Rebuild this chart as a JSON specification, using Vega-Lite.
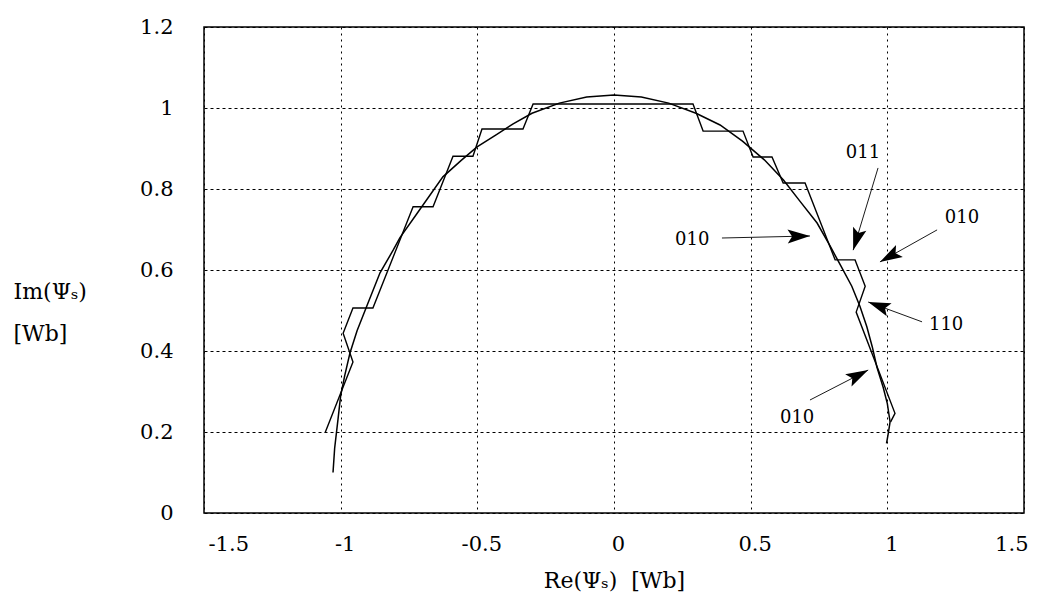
{
  "$schema": "https://vega.github.io/schema/vega-lite/v6.json",
  "width": 820,
  "height": 486,
  "autosize": "none",
  "padding": {"left": 204, "top": 27, "right": 36, "bottom": 87},
  "background": "white",
  "config": {
    "view": {"stroke": "black", "strokeWidth": 1.5},
    "axis": {
      "domain": false,
      "ticks": false,
      "labelFont": "DejaVu Serif",
      "labelFontSize": 21,
      "labelColor": "black",
      "titleFont": "DejaVu Serif",
      "titleFontSize": 22,
      "titleFontWeight": "normal",
      "titleColor": "black",
      "gridColor": "black",
      "gridOpacity": 1,
      "gridWidth": 1
    }
  },
  "datasets": {
    "circle": [
      {"i": 1, "x": -1.028, "y": 0.10},
      {"i": 2, "x": -1.022, "y": 0.16},
      {"i": 3, "x": -1.010, "y": 0.23},
      {"i": 4, "x": -1.000, "y": 0.29},
      {"i": 5, "x": -0.985, "y": 0.34},
      {"i": 6, "x": -0.966, "y": 0.395},
      {"i": 7, "x": -0.940, "y": 0.45},
      {"i": 8, "x": -0.905, "y": 0.51},
      {"i": 9, "x": -0.856, "y": 0.593},
      {"i": 10, "x": -0.808, "y": 0.649},
      {"i": 11, "x": -0.783, "y": 0.68},
      {"i": 12, "x": -0.720, "y": 0.74},
      {"i": 13, "x": -0.626, "y": 0.83},
      {"i": 14, "x": -0.560, "y": 0.87},
      {"i": 15, "x": -0.501, "y": 0.904},
      {"i": 16, "x": -0.430, "y": 0.934},
      {"i": 17, "x": -0.369, "y": 0.961},
      {"i": 18, "x": -0.300, "y": 0.987},
      {"i": 19, "x": -0.200, "y": 1.012},
      {"i": 20, "x": -0.100, "y": 1.027},
      {"i": 21, "x": 0.000, "y": 1.032},
      {"i": 22, "x": 0.100, "y": 1.027},
      {"i": 23, "x": 0.200, "y": 1.012},
      {"i": 24, "x": 0.300, "y": 0.987},
      {"i": 25, "x": 0.388, "y": 0.958},
      {"i": 26, "x": 0.470, "y": 0.918},
      {"i": 27, "x": 0.550, "y": 0.872},
      {"i": 28, "x": 0.620, "y": 0.822},
      {"i": 29, "x": 0.680, "y": 0.77},
      {"i": 30, "x": 0.743, "y": 0.716},
      {"i": 31, "x": 0.790, "y": 0.66},
      {"i": 32, "x": 0.830, "y": 0.61},
      {"i": 33, "x": 0.870, "y": 0.56},
      {"i": 34, "x": 0.900, "y": 0.51},
      {"i": 35, "x": 0.925, "y": 0.46},
      {"i": 36, "x": 0.945, "y": 0.41},
      {"i": 37, "x": 0.962, "y": 0.36},
      {"i": 38, "x": 0.985, "y": 0.31},
      {"i": 39, "x": 1.000, "y": 0.27},
      {"i": 40, "x": 1.010, "y": 0.225},
      {"i": 41, "x": 1.003, "y": 0.195},
      {"i": 42, "x": 0.997, "y": 0.172}
    ],
    "stepped": [
      {"i": 1, "x": -1.057, "y": 0.198},
      {"i": 2, "x": -0.955, "y": 0.373},
      {"i": 3, "x": -0.991, "y": 0.444},
      {"i": 4, "x": -0.955, "y": 0.506},
      {"i": 5, "x": -0.882, "y": 0.506},
      {"i": 6, "x": -0.735, "y": 0.756},
      {"i": 7, "x": -0.662, "y": 0.756},
      {"i": 8, "x": -0.589, "y": 0.881},
      {"i": 9, "x": -0.516, "y": 0.881},
      {"i": 10, "x": -0.483, "y": 0.948},
      {"i": 11, "x": -0.333, "y": 0.948},
      {"i": 12, "x": -0.296, "y": 1.01},
      {"i": 13, "x": 0.289, "y": 1.01},
      {"i": 14, "x": 0.326, "y": 0.943},
      {"i": 15, "x": 0.472, "y": 0.943},
      {"i": 16, "x": 0.509, "y": 0.879},
      {"i": 17, "x": 0.578, "y": 0.879},
      {"i": 18, "x": 0.619, "y": 0.815},
      {"i": 19, "x": 0.699, "y": 0.815},
      {"i": 20, "x": 0.809, "y": 0.625},
      {"i": 21, "x": 0.882, "y": 0.625},
      {"i": 22, "x": 0.919, "y": 0.560},
      {"i": 23, "x": 0.886, "y": 0.496},
      {"i": 24, "x": 1.028, "y": 0.246},
      {"i": 25, "x": 1.012, "y": 0.225}
    ],
    "arrows": [
      {"id": "A1", "x": 0.395, "y": 0.679, "x2": 0.717, "y2": 0.684},
      {"id": "A2", "x": 0.966, "y": 0.852, "x2": 0.875, "y2": 0.649},
      {"id": "A3", "x": 1.182, "y": 0.699, "x2": 0.973, "y2": 0.620},
      {"id": "A4", "x": 1.127, "y": 0.472, "x2": 0.930, "y2": 0.521},
      {"id": "A5", "x": 0.717, "y": 0.279, "x2": 0.930, "y2": 0.353}
    ],
    "labels": [
      {"text": "011", "x": 0.911, "y": 0.889},
      {"text": "010", "x": 1.273, "y": 0.728},
      {"text": "010", "x": 0.286, "y": 0.674},
      {"text": "110", "x": 1.215, "y": 0.464},
      {"text": "010", "x": 0.670, "y": 0.235}
    ]
  },
  "encoding": {
    "x": {
      "field": "x",
      "type": "quantitative",
      "scale": {"domain": [-1.5, 1.5], "nice": false, "zero": false},
      "axis": {
        "values": [-1.5, -1, -0.5, 0, 0.5, 1, 1.5],
        "labelExpr": "'' + datum.value",
        "labelPadding": 20,
        "labelOffset": 4,
        "grid": true,
        "gridDash": [2, 4],
        "title": "Re(Ψₛ)\u00a0\u00a0[Wb]",
        "titleY": 67,
        "titleBaseline": "middle"
      }
    },
    "y": {
      "field": "y",
      "type": "quantitative",
      "scale": {"domain": [0, 1.2], "nice": false, "zero": false},
      "axis": {
        "values": [0, 0.2, 0.4, 0.6, 0.8, 1, 1.2],
        "labelExpr": "'' + datum.value",
        "labelPadding": 31,
        "grid": true,
        "gridDash": [3, 3],
        "title": ["Im(Ψₛ)", "[Wb]"],
        "titleAngle": 0,
        "titleAlign": "left",
        "titleBaseline": "middle",
        "titleX": -191,
        "titleY": 264,
        "titleLineHeight": 42
      }
    }
  },
  "layer": [
    {
      "data": {"name": "circle"},
      "mark": {"type": "line", "color": "black", "strokeWidth": 1.5},
      "encoding": {"order": {"field": "i", "type": "quantitative"}}
    },
    {
      "data": {"name": "stepped"},
      "mark": {"type": "line", "color": "black", "strokeWidth": 1.4},
      "encoding": {"order": {"field": "i", "type": "quantitative"}}
    },
    {
      "data": {"name": "arrows"},
      "mark": {"type": "rule", "color": "black", "strokeWidth": 0.9},
      "encoding": {
        "x2": {"field": "x2"},
        "y2": {"field": "y2"}
      }
    },
    {
      "data": {"name": "arrows"},
      "transform": [{"filter": "datum.id === 'A1'"}],
      "mark": {"type": "point", "shape": "M0,0 L-2,-0.62 L-1.6,0 L-2,0.62 Z", "filled": true, "color": "black", "opacity": 1, "size": 500, "angle": -1.3},
      "encoding": {"x": {"field": "x2", "type": "quantitative"}, "y": {"field": "y2", "type": "quantitative"}}
    },
    {
      "data": {"name": "arrows"},
      "transform": [{"filter": "datum.id === 'A2'"}],
      "mark": {"type": "point", "shape": "M0,0 L-2,-0.62 L-1.6,0 L-2,0.62 Z", "filled": true, "color": "black", "opacity": 1, "size": 500, "angle": 107},
      "encoding": {"x": {"field": "x2", "type": "quantitative"}, "y": {"field": "y2", "type": "quantitative"}}
    },
    {
      "data": {"name": "arrows"},
      "transform": [{"filter": "datum.id === 'A3'"}],
      "mark": {"type": "point", "shape": "M0,0 L-2,-0.62 L-1.6,0 L-2,0.62 Z", "filled": true, "color": "black", "opacity": 1, "size": 500, "angle": 150.7},
      "encoding": {"x": {"field": "x2", "type": "quantitative"}, "y": {"field": "y2", "type": "quantitative"}}
    },
    {
      "data": {"name": "arrows"},
      "transform": [{"filter": "datum.id === 'A4'"}],
      "mark": {"type": "point", "shape": "M0,0 L-2,-0.62 L-1.6,0 L-2,0.62 Z", "filled": true, "color": "black", "opacity": 1, "size": 500, "angle": 200.3},
      "encoding": {"x": {"field": "x2", "type": "quantitative"}, "y": {"field": "y2", "type": "quantitative"}}
    },
    {
      "data": {"name": "arrows"},
      "transform": [{"filter": "datum.id === 'A5'"}],
      "mark": {"type": "point", "shape": "M0,0 L-2,-0.62 L-1.6,0 L-2,0.62 Z", "filled": true, "color": "black", "opacity": 1, "size": 500, "angle": -27.3},
      "encoding": {"x": {"field": "x2", "type": "quantitative"}, "y": {"field": "y2", "type": "quantitative"}}
    },
    {
      "data": {"name": "labels"},
      "mark": {"type": "text", "font": "DejaVu Serif", "fontSize": 18, "color": "black", "align": "center", "baseline": "middle"},
      "encoding": {"text": {"field": "text", "type": "nominal"}}
    }
  ]
}
